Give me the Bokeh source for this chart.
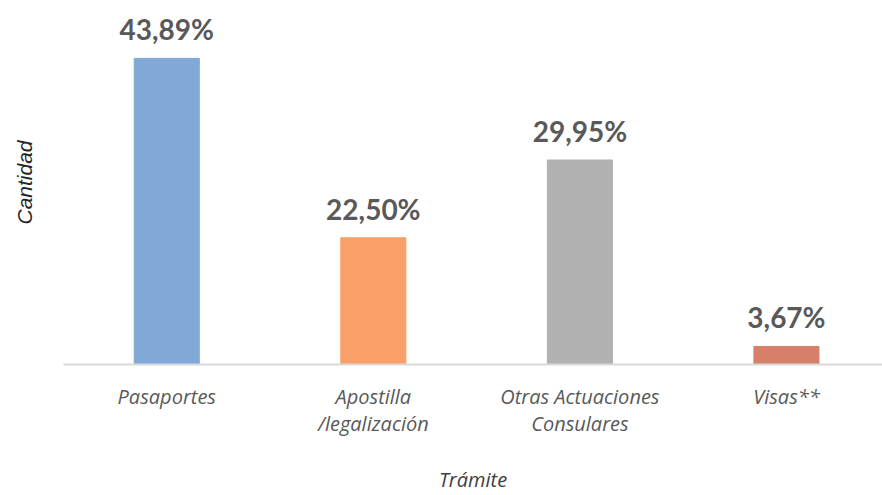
from bokeh.plotting import figure
from bokeh.models import ColumnDataSource, Range1d, FixedTicker
from bokeh.embed import file_html
from bokeh.resources import INLINE
from bokeh.core.properties import value

# Data
categorias = ["Pasaportes", "Apostilla\n/legalización", "Otras Actuaciones\nConsulares", "Visas**"]
cantidad = [100.0, 41.4, 66.8, 5.9]          # relative quantity (bar heights)
porcentajes = ["43,89%", "22,50%", "29,95%", "3,67%"]
colores = ["#80A9D8", "#F8A068", "#B1B1B1", "#D6806A"]
titulo_x = "Trámite"
titulo_y = "Cantidad"

xs = list(range(len(categorias)))
src = ColumnDataSource(dict(x=xs, top=cantidad, label=porcentajes, color=colores))

p = figure(width=882, height=495, output_backend="svg", toolbar_location=None,
           x_range=Range1d(-0.5, 3.465), y_range=Range1d(0, 118.9),
           min_border_left=63, min_border_right=0, min_border_top=0, min_border_bottom=130)

p.vbar(x="x", top="top", width=0.315, color="color", source=src)
p.text(x="x", y="top", text="label", source=src, y_offset=-29,
       text_align="center", text_baseline="middle",
       text_font=value("Lato"), text_font_style="bold", text_font_size="28px",
       text_color="#595959")

p.xgrid.visible = False
p.ygrid.visible = False
p.outline_line_color = None

xa = p.xaxis[0]
xa.ticker = FixedTicker(ticks=xs)
xa.major_label_overrides = {i: c for i, c in zip(xs, categorias)}
xa.major_tick_line_color = None
xa.minor_tick_line_color = None
xa.major_tick_out = 0
xa.major_tick_in = 0
xa.axis_line_color = "#D9D9D9"
xa.axis_line_width = 2
xa.major_label_text_font = "Open Sans"
xa.major_label_text_font_style = "italic"
xa.major_label_text_font_size = "20px"
xa.major_label_text_color = "#595959"
xa.major_label_text_line_height = 1.0
xa.major_label_standoff = 18
xa.axis_label = titulo_x
xa.axis_label_text_font = "Open Sans"
xa.axis_label_text_font_style = "italic"
xa.axis_label_text_font_size = "20px"
xa.axis_label_text_color = "#404040"
xa.axis_label_text_line_height = 1.0
xa.axis_label_standoff = 26

ya = p.yaxis[0]
ya.ticker = FixedTicker(ticks=[])
ya.axis_line_color = None
ya.major_tick_line_color = None
ya.minor_tick_line_color = None
ya.major_label_text_font_size = "0px"
ya.axis_label = titulo_y
ya.axis_label_text_font = "Liberation Sans"
ya.axis_label_text_font_style = "italic"
ya.axis_label_text_font_size = "21px"
ya.axis_label_text_color = "#262626"
ya.axis_label_standoff = 28

p.background_fill_color = "white"
p.border_fill_color = "white"

open("out.html", "w").write(file_html(p, INLINE))
